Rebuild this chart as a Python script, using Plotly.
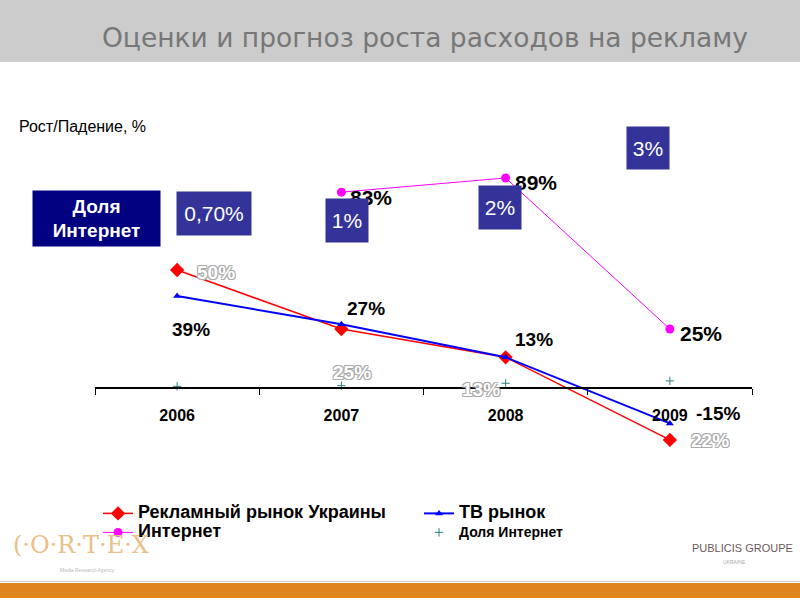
import plotly.graph_objects as go

years = ["2006", "2007", "2008", "2009"]
market = [50, 25, 13, -22]
tv = [39, 27, 13, -15]
internet = [None, 83, 89, 25]
share = [0.7, 1, 2, 3]
share_labels = ["0,70%", "1%", "2%", "3%"]
market_labels = ["50%", "25%", "13%", "22%"]
tv_labels = ["39%", "27%", "13%", "-15%"]
internet_labels = [None, "83%", "89%", "25%"]

names = ["Рекламный рынок Украины", "ТВ рынок", "Интернет", "Доля Интернет"]

FONT = "Liberation Sans, Arial, sans-serif"


def big(s, size=18):
    return "<span style='font-size:%dpx'>%s</span>" % (size, s)


fig = go.Figure()
fig.add_trace(go.Scatter(x=years, y=market, name=big(names[0]), mode="lines+markers",
                         line=dict(color="#FF0000", width=1.5),
                         marker=dict(symbol="diamond", size=11, color="#FF0000")))
fig.add_trace(go.Scatter(x=years, y=tv, name=big(names[1]), mode="lines+markers",
                         line=dict(color="#0000FF", width=2),
                         marker=dict(symbol="triangle-up", size=7, color="#0000FF")))
fig.add_trace(go.Scatter(x=years, y=internet, name=big(names[2]), mode="lines+markers",
                         line=dict(color="#FF00FF", width=1),
                         marker=dict(symbol="circle", size=9, color="#FF00FF")))
fig.add_trace(go.Scatter(x=years, y=share, name=big(names[3], 14),
                         mode="markers",
                         marker=dict(symbol="cross-thin", size=6, color="#2E8080",
                                     line=dict(color="#2E8080", width=1))))

outline = "1px 1px 0 #aaa, -1px -1px 0 #aaa, 1px -1px 0 #aaa, -1px 1px 0 #aaa"
m_shift = [(39, -2), (11, -43), (-25, -32), (40, -1)]
for i, (v, t) in enumerate(zip(market, market_labels)):
    fig.add_annotation(x=i, y=v, xref="x", yref="y", text=t, showarrow=False,
                       xanchor="center", yanchor="middle",
                       xshift=m_shift[i][0], yshift=m_shift[i][1],
                       font=dict(family=FONT, size=19, color="white", weight="bold", shadow=outline))
t_shift = [(14, -34), (25, 16), (28, 18), (48, 10)]
for i, (v, t) in enumerate(zip(tv, tv_labels)):
    fig.add_annotation(x=i, y=v, xref="x", yref="y", text=t, showarrow=False,
                       xanchor="center", yanchor="middle",
                       xshift=t_shift[i][0], yshift=t_shift[i][1],
                       font=dict(family=FONT, size=19, color="black", weight="bold"))
i_shift = [None, (30, -5), (30, -5), (31, -4)]
for i, (v, t) in enumerate(zip(internet, internet_labels)):
    if v is None:
        continue
    fig.add_annotation(x=i, y=v, xref="x", yref="y", text=t, showarrow=False,
                       xanchor="center", yanchor="middle",
                       xshift=i_shift[i][0], yshift=i_shift[i][1],
                       font=dict(family=FONT, size=21, color="black", weight="bold"))

# share boxes
box_pos = [(37, 0.824, 72, 41), (6, 0.8095, 40, 41), (-6, 0.840, 40, 41), (-22, 0.981, 40, 40)]
for i, t in enumerate(share_labels):
    xs, yp, w, h = box_pos[i]
    fig.add_annotation(x=i, xref="x", y=yp, yref="paper", xshift=xs, text=t,
                       xanchor="center", yanchor="middle",
                       showarrow=False, bgcolor="#333399", width=w, height=h,
                       font=dict(family=FONT, size=21, color="white"))
fig.add_annotation(x=0.003, xref="paper", y=0.814, yref="paper", text="<b>Доля<br>Интернет</b>",
                   xanchor="center", yanchor="middle",
                   showarrow=False, bgcolor="#000080", width=125, height=53,
                   font=dict(family=FONT, size=19, color="white"))

fig.add_annotation(x=-0.119, xref="paper", y=1.033, yref="paper", xanchor="left", yanchor="middle",
                   text="Рост/Падение, %", showarrow=False,
                   font=dict(family=FONT, size=16, color="black"))

# header band and title
fig.add_shape(type="rect", xref="paper", yref="paper", x0=-0.2, x1=1.2, y0=1.1857, y1=1.4,
              fillcolor="#CCCCCC", line=dict(width=0), layer="below")
fig.add_annotation(x=0.997, xref="paper", y=1.243, yref="paper", xanchor="right", yanchor="middle",
                   text="Оценки и прогноз роста расходов на рекламу", showarrow=False,
                   font=dict(family="DejaVu Sans, sans-serif", size=26.5, color="#777777"))
# footer band
fig.add_shape(type="rect", xref="paper", yref="paper", x0=-0.2, x1=1.2, y0=-0.0905, y1=-0.0548,
              fillcolor="#E0841E", line=dict(width=0))
fig.add_shape(type="line", xref="paper", yref="paper", x0=-0.2, x1=1.2, y0=-0.051, y1=-0.051,
              line=dict(color="#C8C8C8", width=1))
# logos as text
fig.add_annotation(x=-0.128, xref="paper", y=0.036, yref="paper", xanchor="left", yanchor="middle",
                   text="(·O·R·T·E·X", showarrow=False,
                   font=dict(family="DejaVu Serif, serif", size=24, color="#EBC088"))
fig.add_annotation(x=-0.056, xref="paper", y=-0.024, yref="paper", xanchor="left", yanchor="middle",
                   text="Media Research Agency", showarrow=False,
                   font=dict(family=FONT, size=5, color="#BBBBBB"))
fig.add_annotation(x=1.066, xref="paper", y=0.0286, yref="paper", xanchor="right", yanchor="middle",
                   text="PUBLICIS GROUPE", showarrow=False,
                   font=dict(family=FONT, size=11, color="#6B5A5A"))
fig.add_annotation(x=0.974, xref="paper", y=-0.005, yref="paper", xanchor="center", yanchor="middle",
                   text="UKRAINE", showarrow=False,
                   font=dict(family=FONT, size=5, color="#AAAAAA"))

fig.update_layout(
    width=800, height=600,
    margin=dict(l=95, r=48, t=140, b=40, autoexpand=False),
    paper_bgcolor="white", plot_bgcolor="rgba(0,0,0,0)",
    showlegend=True,
    legend=dict(orientation="h", x=0.0046, xanchor="left", y=0.1455, yanchor="top",
                entrywidth=276, entrywidthmode="pixels", traceorder="normal",
                font=dict(family=FONT, size=12, color="black", weight="bold"),
                itemwidth=30, bgcolor="rgba(0,0,0,0)"),
    xaxis=dict(type="category", range=[-0.5, 3.5], anchor="free", position=0.4095,
               showline=True, linecolor="black", linewidth=1.5,
               ticks="outside", tickson="boundaries", ticklen=6, tickcolor="black",
               ticklabelstandoff=13,
               showgrid=False, zeroline=False,
               tickfont=dict(family=FONT, size=16, color="black", weight="bold")),
    yaxis=dict(range=[-72.9, 105.1], visible=False, showgrid=False, zeroline=False),
)

fig.write_html("out.html", config={"displayModeBar": False},
               post_script="document.body.style.margin='0';document.body.style.overflow='hidden';")
